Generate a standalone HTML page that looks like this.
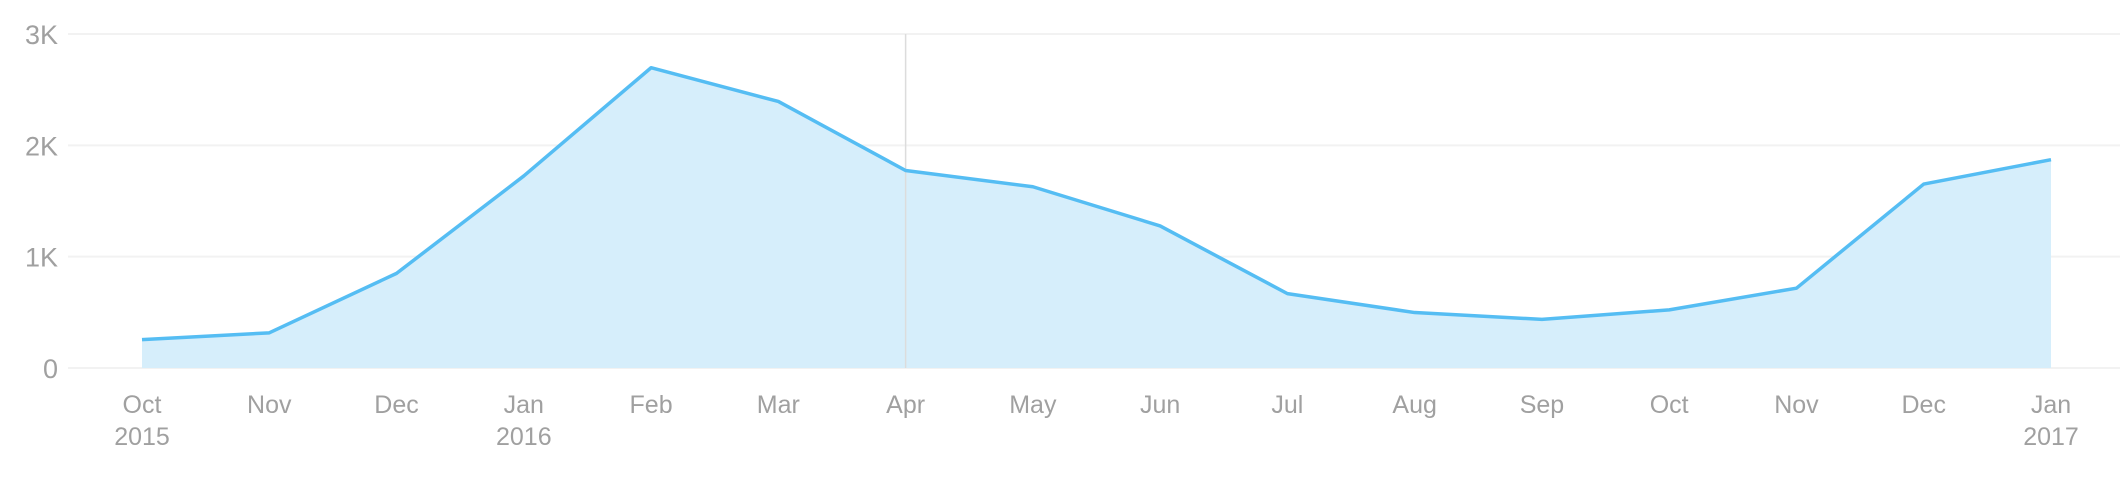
<!DOCTYPE html>
<html><head><meta charset="utf-8"><style>
html,body{margin:0;padding:0;background:#fff;}
svg text{font-family:"Liberation Sans",sans-serif;font-weight:300;fill:#a0a0a0;}
</style></head><body>
<svg id="chart" width="2120" height="478" xmlns="http://www.w3.org/2000/svg"></svg>
<script>
const months = ["Oct","Nov","Dec","Jan","Feb","Mar","Apr","May","Jun","Jul","Aug","Sep","Oct","Nov","Dec","Jan"];
const years = ["2015","","","2016","","","","","","","","","","","","2017"];
const values = [255,316,850,1725,2697,2394,1774,1628,1276,668,498,437,522,717,1652,1871];
const yTicks = [0,1000,2000,3000];
const yTickLabels = ["0","1K","2K","3K"];
const hoverIndex = 6;

const svg = document.getElementById('chart');
const NS = 'http://www.w3.org/2000/svg';
const x0 = 142, x1 = 2051, y0 = 368, yTop = 34, yMax = 3000;
const xs = i => x0 + (x1 - x0) * i / (months.length - 1);
const ys = v => y0 - (y0 - yTop) * v / yMax;
function mk(tag, attrs){const e=document.createElementNS(NS,tag);for(const k in attrs)e.setAttribute(k,attrs[k]);svg.appendChild(e);return e;}

yTicks.forEach((t,i)=>{
  const g = mk('line',{x1:68,x2:2120,y1:ys(t),y2:ys(t),stroke:'#f2f2f2','stroke-width':2});
  
  
  const tx = mk('text',{x:58,y:ys(t)+10,'text-anchor':'end','font-size':27});
  tx.textContent = yTickLabels[i];
  
  
});

let d = 'M'+xs(0)+','+y0;
values.forEach((v,i)=>{d+=' L'+xs(i)+','+ys(v);});
d += ' L'+xs(values.length-1)+','+y0+' Z';
const area = mk('path',{d:d,fill:'#d6eefb'});



const hl = mk('line',{x1:xs(hoverIndex),x2:xs(hoverIndex),y1:yTop,y2:y0,stroke:'#dcdcdc','stroke-width':1.5});



const line = mk('polyline',{points:values.map((v,i)=>xs(i)+','+ys(v)).join(' '),fill:'none',stroke:'#55bdf3','stroke-width':3.5,'stroke-linejoin':'round'});



months.forEach((m,i)=>{
  const t = mk('text',{x:xs(i),y:413,'text-anchor':'middle','font-size':25});
  t.textContent = m;
  
  
  if(years[i]){
    const y = mk('text',{x:xs(i),y:445,'text-anchor':'middle','font-size':25});
    y.textContent = years[i];
    
    
  }
});
</script>
</body></html>
